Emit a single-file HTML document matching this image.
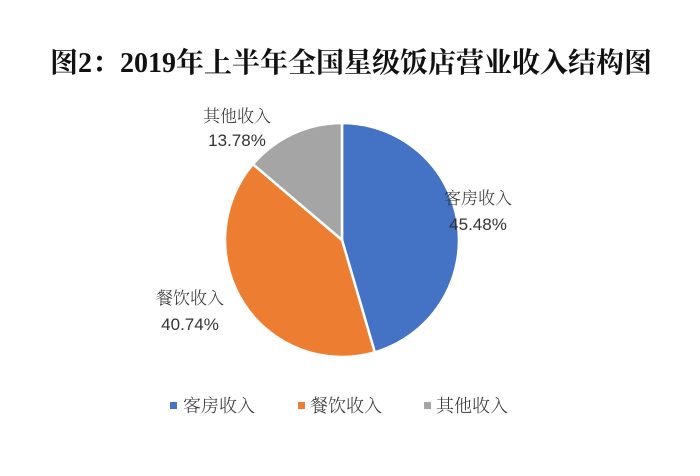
<!DOCTYPE html>
<html><head><meta charset="utf-8"><style>
body{margin:0;background:#fff;}
</style></head><body>
<svg width="700" height="471" xmlns="http://www.w3.org/2000/svg">
<rect width="700" height="471" fill="#fff"/>
<text x="351" y="72" text-anchor="middle" font-family="'Liberation Serif','Noto Serif CJK SC',serif" font-weight="bold" font-size="28" fill="#111">图2：2019年上半年全国星级饭店营业收入结构图</text>
<g stroke="#fff" stroke-width="2.5">
<path d="M342,240 L342,123 A117,117 0 0 1 374.8,352.3 Z" fill="#4472C4"/>
<path d="M342,240 L374.8,352.3 A117,117 0 0 1 252.9,164.2 Z" fill="#ED7D31"/>
<path d="M342,240 L252.9,164.2 A117,117 0 0 1 342,123 Z" fill="#A5A5A5"/>
</g>
<g font-family="'Noto Serif CJK SC',serif" font-weight="300" font-size="17" fill="#333" text-anchor="middle">
<text x="237" y="122">其他收入</text>
<text x="478" y="204">客房收入</text>
<text x="190" y="304">餐饮收入</text>
</g>
<g font-family="'Liberation Sans',sans-serif" font-size="17" fill="#333" text-anchor="middle">
<text x="237" y="146">13.78%</text>
<text x="478" y="230">45.48%</text>
<text x="190" y="330">40.74%</text>
</g>
<g font-family="'Noto Serif CJK SC',serif" font-weight="300" font-size="18" fill="#333">
<rect x="170" y="402" width="7" height="7" fill="#4472C4"/>
<text x="183" y="412">客房收入</text>
<rect x="298" y="402" width="7" height="7" fill="#ED7D31"/>
<text x="310" y="412">餐饮收入</text>
<rect x="424" y="402" width="7" height="7" fill="#A5A5A5"/>
<text x="436" y="412">其他收入</text>
</g>
</svg>
</body></html>
